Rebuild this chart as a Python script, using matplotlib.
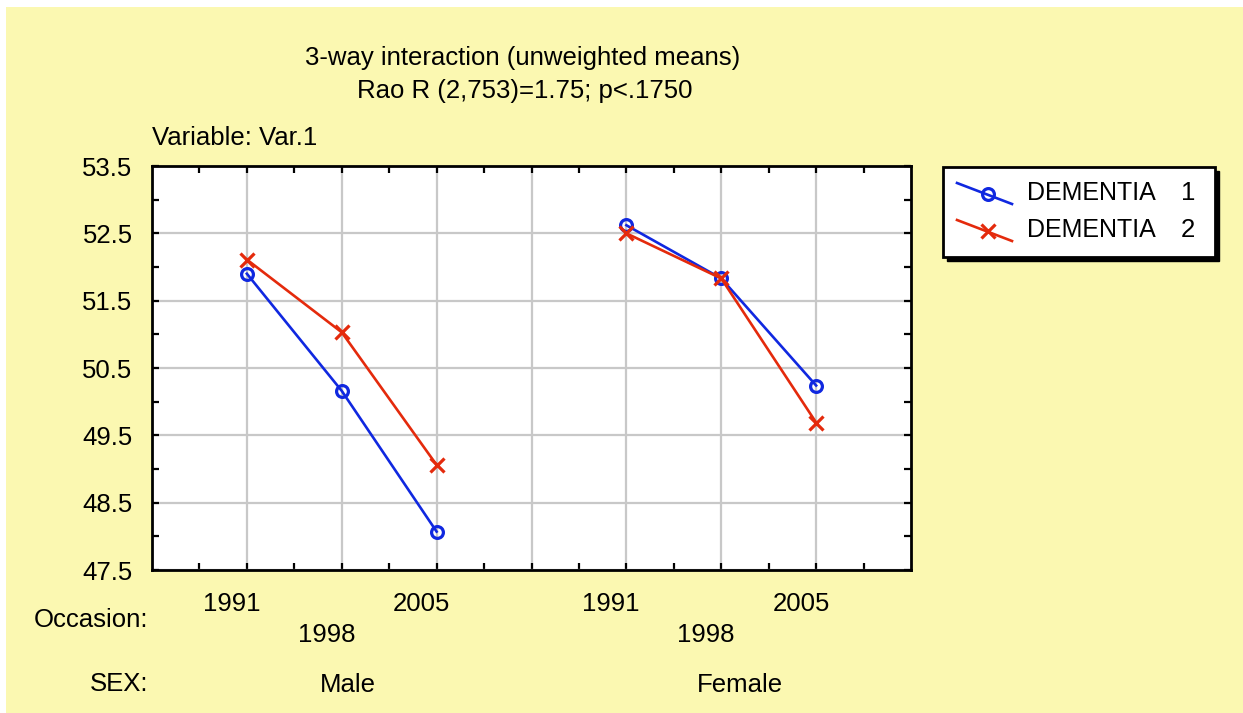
import numpy as np
import matplotlib
matplotlib.use("Agg")
import matplotlib.pyplot as plt
from matplotlib.patches import Rectangle
from matplotlib.lines import Line2D

# --- DATA ---
occasions = ["1991", "1998", "2005"]
sexes = ["Male", "Female"]
series_names = ["DEMENTIA   1", "DEMENTIA   2"]
dementia1 = [51.90, 50.16, 48.07, 52.62, 51.83, 50.24]   # Male 91/98/05, Female 91/98/05
dementia2 = [52.11, 51.03, 49.06, 52.50, 51.83, 49.69]
y_ticks = [53.5, 52.5, 51.5, 50.5, 49.5, 48.5, 47.5]
# -------------

W, H = 1243, 713
BG = "#FBF8B1"
BLUE = "#1028E0"
RED = "#E42A0C"
FS = 18.5

plt.rcParams['font.family'] = ['Liberation Sans', 'DejaVu Sans']

fig = plt.figure(figsize=(W / 100, H / 100), dpi=100, facecolor="white")


def px(x, y):
    """pixel coords (from top-left) -> figure fraction"""
    return x / W, 1 - y / H


# yellow panel with thin white margin on top/left only
fig.patches.append(Rectangle((6 / W, -0.05), 1.1, 1.05 - 7 / H, transform=fig.transFigure,
                             facecolor=BG, edgecolor="none", zorder=-10))

ax = fig.add_axes([152 / W, 1 - 570 / H, (911 - 152) / W, (570 - 166) / H])
ax.set_facecolor("white")

# x positions: 3 occasions per sex, with a gap slot between the groups
n_occ = len(occasions)
xpos = []
for g in range(len(sexes)):
    for k in range(n_occ):
        xpos.append(1 + g * (n_occ + 1) + k)
xpos = np.array(xpos)

for g in range(len(sexes)):
    sl = slice(g * n_occ, (g + 1) * n_occ)
    ax.plot(xpos[sl], dementia1[sl], color=BLUE, lw=1.9, marker="o", ms=8.5,
            mfc="none", mec=BLUE, mew=2.3, zorder=3)
    ax.plot(xpos[sl], dementia2[sl], color=RED, lw=1.9, marker="x", ms=10.5,
            mec=RED, mew=2.3, zorder=3)

ax.set_xlim(0, xpos[-1] + 1)
ax.set_ylim(min(y_ticks), max(y_ticks))
ax.set_xticks(np.arange(1, xpos[-1] + 1))
ax.set_xticks(np.arange(0.5, xpos[-1] + 1, 1.0), minor=True)
ax.set_yticks(y_ticks)
ax.set_yticks(np.arange(48.0, 53.5, 1.0), minor=True)
ax.set_xticklabels([])
ax.set_yticklabels([f"{v:.1f}" for v in y_ticks], fontsize=FS)
ax.tick_params(which="both", direction="in", top=True, right=True,
               length=5, width=1.6, color="black")
ax.tick_params(axis="y", pad=14)
ax.grid(True, which="major", color="#C8C8C8", lw=1.6, zorder=0)
ax.set_axisbelow(True)
for s in ax.spines.values():
    s.set_linewidth(2.0)

# category labels under the axis (the middle one is staggered down)
tr = ax.get_xaxis_transform()
for i, x in enumerate(xpos):
    k = i % n_occ
    yoff = -0.161 if k == 1 else -0.085
    ax.text(x - 0.16, yoff, occasions[k], transform=tr, ha="center", va="center",
            fontsize=FS)
sex_shift = [0.06, 0.2]
for g, name in enumerate(sexes):
    xc = xpos[g * n_occ + 1]
    ax.text(xc + sex_shift[g], -0.285, name, transform=tr, ha="center", va="center",
            fontsize=FS)

fig.text(*px(148, 620), "Occasion:", ha="right", va="center", fontsize=FS)
fig.text(*px(148, 684), "SEX:", ha="right", va="center", fontsize=FS)

# titles
fig.text(*px(523, 58), "3-way interaction (unweighted means)", ha="center",
         va="center", fontsize=FS)
fig.text(*px(525, 91), "Rao R (2,753)=1.75; p<.1750", ha="center", va="center",
         fontsize=FS)
fig.text(*px(152, 138), "Variable: Var.1", ha="left", va="center", fontsize=FS)

# legend box with drop shadow and diagonal sample lines
x0, y0, x1, y1 = 943, 167, 1215, 257
fig.patches.append(Rectangle(px(x0 + 4, y1 + 4), (x1 - x0) / W, (y1 - y0) / H,
                             transform=fig.transFigure, facecolor="black",
                             edgecolor="black", zorder=5))
fig.patches.append(Rectangle(px(x0, y1), (x1 - x0) / W, (y1 - y0) / H,
                             transform=fig.transFigure, facecolor="white",
                             edgecolor="black", lw=2.0, zorder=6))
for j, (name, col, mk, ms) in enumerate(zip(series_names, [BLUE, RED], ["o", "x"], [8.5, 10.5])):
    yc = 193 + j * 37
    xa, ya = px(957, yc - 10)
    xb, yb = px(1012, yc + 11)
    fig.lines.append(Line2D([xa, xb], [ya, yb], transform=fig.transFigure,
                            color=col, lw=1.9, zorder=7))
    xm, ym = px(988, yc + 1)
    fig.lines.append(Line2D([xm], [ym], transform=fig.transFigure, color=col,
                            marker=mk, ms=ms, mfc="none", mec=col, mew=2.3, zorder=7))
    label, num = name.split()[0], name.split()[-1]
    fig.text(*px(1027, yc), label, ha="left", va="center", fontsize=FS - 0.5, zorder=8)
    fig.text(*px(1195, yc), num, ha="right", va="center", fontsize=FS, zorder=8)

fig.savefig("out.png", dpi=100, facecolor=fig.get_facecolor())
